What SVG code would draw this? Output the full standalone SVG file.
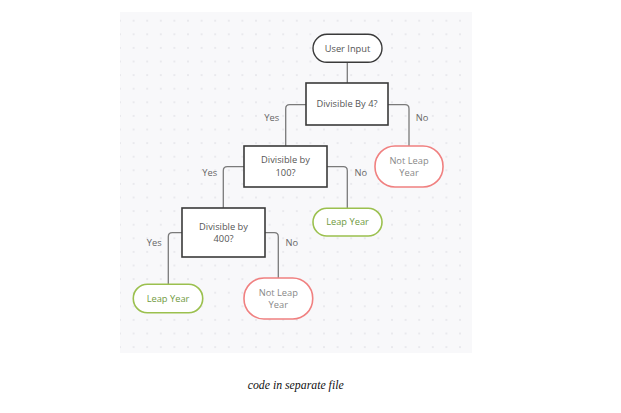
<svg xmlns="http://www.w3.org/2000/svg" width="621" height="413" viewBox="0 0 621 413">
<defs>
<pattern id="dots" x="113.2" y="13.9" width="13.6" height="13.6" patternUnits="userSpaceOnUse">
<circle cx="6.8" cy="6.8" r="0.8" fill="#d6d6dc"/>
</pattern>
<style>
.proc{fill:#fff;stroke:#3a3a3a;stroke-width:1.6}
.start{fill:#fff;stroke:#3a3a3a;stroke-width:1.4}
.bad{fill:#fff;stroke:#f08080;stroke-width:1.6}
.good{fill:#fff;stroke:#9bc04e;stroke-width:1.6}
.t{font-family:"Open Sans","Noto Sans",sans-serif;font-size:9.3px;text-anchor:middle;fill:#555}
.tb{font-family:"Open Sans","Noto Sans",sans-serif;font-size:9.3px;text-anchor:middle;fill:#888}
.tg{font-family:"Open Sans","Noto Sans",sans-serif;font-size:9.3px;text-anchor:middle;fill:#6f9a3e}
.lbl{font-family:"Open Sans","Noto Sans",sans-serif;font-size:9.3px;text-anchor:middle;fill:#666}
.c{fill:none;stroke:#7a7a7a;stroke-width:1.3}
</style>
</defs>
<rect x="0" y="0" width="621" height="413" fill="#fff"/>
<rect x="120" y="12" width="352" height="341" fill="#f8f8fa"/>
<rect x="120" y="12" width="352" height="341" fill="url(#dots)"/>

<g id="connectors">
<path class="c" d="M347.3 62.3 V83"/>
<path class="c" d="M306 104.7 H289.7 Q285.7 104.7 285.7 108.7 V146"/>
<path class="c" d="M388 104.7 H405 Q409 104.7 409 108.7 V146"/>
<path class="c" d="M244 166.7 H227.3 Q223.3 166.7 223.3 170.7 V208"/>
<path class="c" d="M327 166.7 H343.3 Q347.3 166.7 347.3 170.7 V208.3"/>
<path class="c" d="M182 232.7 H172.3 Q168.3 232.7 168.3 236.7 V284.3"/>
<path class="c" d="M265 232.7 H274.3 Q278.3 232.7 278.3 236.7 V278"/>
<text class="lbl" x="271.7" y="120.8">Yes</text>
<text class="lbl" x="422" y="120.8">No</text>
<text class="lbl" x="209.7" y="176.3">Yes</text>
<text class="lbl" x="360.7" y="176.3">No</text>
<text class="lbl" x="154.3" y="245.8">Yes</text>
<text class="lbl" x="291.7" y="245.8">No</text>
</g>

<g id="user-input">
<rect class="start" x="313" y="34.3" width="69" height="28" rx="14"/>
<text class="t" x="347.5" y="51.6">User Input</text>
</g>
<g id="div4">
<rect class="proc" x="306" y="83" width="82" height="42"/>
<text class="t" x="347" y="107.3">Divisible By 4?</text>
</g>
<g id="not-leap-1">
<rect class="bad" x="375" y="146" width="68" height="41" rx="20"/>
<text class="tb" x="409" y="163.6">Not Leap</text>
<text class="tb" x="409" y="176.2">Year</text>
</g>
<g id="div100">
<rect class="proc" x="244" y="146" width="83" height="41"/>
<text class="t" x="285.5" y="163.3">Divisible by</text>
<text class="t" x="285.5" y="175.8">100?</text>
</g>
<g id="leap-1">
<rect class="good" x="313" y="208.3" width="69" height="27.7" rx="13.8"/>
<text class="tg" x="347.5" y="225.3">Leap Year</text>
</g>
<g id="div400">
<rect class="proc" x="182" y="208" width="83" height="49"/>
<text class="t" x="223.5" y="229.8">Divisible by</text>
<text class="t" x="223.5" y="242.3">400?</text>
</g>
<g id="leap-2">
<rect class="good" x="133.3" y="284.3" width="69.4" height="28.4" rx="14"/>
<text class="tg" x="168" y="301.8">Leap Year</text>
</g>
<g id="not-leap-2">
<rect class="bad" x="244" y="278" width="68.7" height="41" rx="20"/>
<text class="tb" x="278.3" y="295.6">Not Leap</text>
<text class="tb" x="278.3" y="308.2">Year</text>
</g>
<text x="295.7" y="388.5" font-family="Liberation Serif, serif" font-style="italic" font-size="11.8" text-anchor="middle" fill="#111">code in separate file</text>
</svg>
